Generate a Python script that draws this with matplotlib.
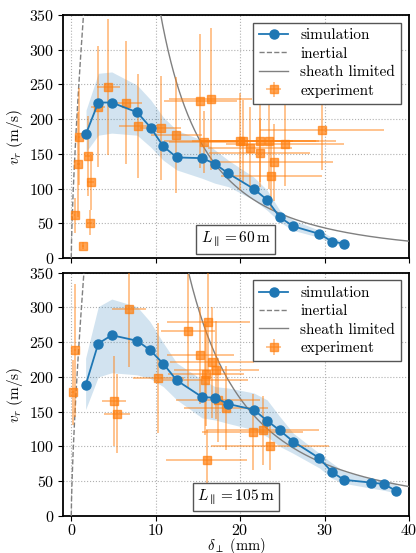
import numpy as np
import matplotlib
matplotlib.use("Agg")
import matplotlib.pyplot as plt

plt.rcParams['mathtext.fontset'] = 'cm'
plt.rcParams['font.family'] = ['cmr10', 'DejaVu Serif']
plt.rcParams['axes.formatter.use_mathtext'] = True
plt.rcParams['axes.unicode_minus'] = False

# ---------------- data: top panel (L = 60 m) ----------------
sim60_x = [1.75, 3.2, 4.8, 7.8, 9.4, 10.9, 12.5, 15.5, 17.0, 18.6, 21.6, 23.2, 24.7, 26.3, 29.4, 30.9, 32.3]
sim60_y = [179, 224, 224, 210, 188, 161, 145, 144, 136, 122, 100, 84, 59, 46, 35, 24, 21]
sim60_lo = [153, 177, 180, 177, 160, 141, 127, 115, 108, 103, 84, 69, 52, 40, 30, 21, 18]
sim60_hi = [213, 266, 268, 249, 228, 203, 184, 170, 156, 141, 117, 98, 69, 55, 40, 30, 24]

exp60_x = [0.40, 0.83, 0.91, 1.42, 1.93, 2.29, 2.2, 3.19, 4.41, 6.54, 7.9, 10.6, 12.44,
           15.3, 16.5, 15.7, 20.0, 20.3, 21.2, 22.4, 22.3, 23.4, 24.0, 23.7, 25.3, 29.7]
exp60_y = [62, 135, 175, 18, 147, 109, 51, 218, 246, 224, 190, 187, 177,
           226, 229, 167, 168, 168, 159, 169, 152, 169, 138, 119, 164, 185]
exp60_xerr = [0.1, 0.15, 0.15, 0.1, 0.3, 0.4, 0.3, 0.8, 1.4, 1.8, 2.2, 2.4, 3.0,
              4.3, 4.9, 4.1, 9.0, 6.0, 5.0, 7.0, 6.0, 8.0, 7.0, 6.0, 7.0, 7.3]
exp60_yerr = [25, 75, 70, 5, 58, 40, 18, 87, 98, 89, 75, 75, 83,
              96, 102, 45, 70, 60, 58, 60, 50, 70, 55, 50, 60, 58]

# ---------------- data: bottom panel (L = 105 m) ----------------
sim105_x = [1.7, 3.2, 4.8, 7.8, 9.3, 10.9, 12.5, 15.5, 17.05, 18.6, 21.6, 23.2, 24.7, 26.3, 29.4, 30.9, 32.3, 35.5, 37.0, 38.5]
sim105_y = [188, 248, 260, 252, 239, 219, 195, 171, 170, 161, 153, 137, 123, 107, 83, 63, 52, 48, 46, 36]
sim105_lo = [153, 200, 206, 203, 198, 186, 167, 141, 138, 133, 124, 114, 100, 90, 69, 54, 47, 40, 37, 33]
sim105_hi = [227, 301, 312, 301, 280, 249, 220, 196, 186, 184, 177, 167, 143, 119, 90, 76, 64, 54, 52, 47]

exp105_x = [0.2, 0.47, 5.08, 5.4, 6.85, 10.3, 13.8, 15.3, 16.25, 16.65, 17.2, 16.0, 15.9,
            17.35, 18.35, 16.05, 21.5, 22.7, 23.5]
exp105_y = [178, 238, 165, 147, 298, 198, 266, 231, 279, 221, 210, 204, 196,
            167, 155, 80, 121, 123, 101]
exp105_xerr = [0.1, 0.1, 1.45, 1.5, 2.0, 3.0, 3.2, 4.0, 4.9, 5.0, 5.0, 4.5, 5.0,
               5.0, 5.0, 4.8, 6.0, 6.7, 7.0]
exp105_yerr = [47, 95, 65, 57, 84, 79, 82, 70, 73, 80, 70, 75, 80,
               60, 60, 43, 55, 50, 35]

# model curves: inertial ~ delta^0.7, sheath limited ~ delta^-2
inert60_coef, inert105_coef = 350 / 1.45 ** 0.7, 350 / 1.5 ** 0.7
inert_pow = 0.7
sheath60_coef, sheath105_coef = 350 * 10.6 ** 2, 350 * 13.9 ** 2

blue = '#1f77b4'
orange = '#ff7f0e'
grey = '#808080'

fig = plt.figure(figsize=(4.16, 5.53), dpi=100)
ax1 = fig.add_axes([0.151, 0.533, 0.832, 0.440])
ax2 = fig.add_axes([0.151, 0.067, 0.832, 0.440])

panels = [
    (ax1, sim60_x, sim60_y, sim60_lo, sim60_hi, exp60_x, exp60_y, exp60_xerr, exp60_yerr,
     inert60_coef, sheath60_coef, r'$L_\parallel = 60\,\mathrm{m}$'),
    (ax2, sim105_x, sim105_y, sim105_lo, sim105_hi, exp105_x, exp105_y, exp105_xerr, exp105_yerr,
     inert105_coef, sheath105_coef, r'$L_\parallel = 105\,\mathrm{m}$'),
]

for (ax, sx, sy, slo, shi, ex, ey, exe, eye, ic, sc, lab) in panels:
    ax.fill_between(sx, slo, shi, color=blue, alpha=0.2, lw=0, zorder=2)
    d_in = np.linspace(0, 2.0, 200)
    ax.plot(d_in, ic * d_in ** inert_pow, ls='--', color=grey, lw=1.0, label='inertial', zorder=3)
    d_sh = np.linspace(9, 41, 400)
    ax.plot(d_sh, sc / d_sh ** 2, ls='-', color=grey, lw=1.0, label='sheath limited', zorder=3)
    cont = ax.errorbar(ex, ey, xerr=exe, yerr=eye, fmt='s', color=orange, ms=5.5, mec=orange,
                       ecolor=orange, elinewidth=1.3, alpha=0.5, label='experiment', zorder=4)
    cont[0].set_alpha(0.7)
    ax.plot(sx, sy, '-o', color=blue, ms=6.5, lw=1.3, label='simulation', zorder=5)

    ax.set_xlim(-1, 40)
    ax.set_ylim(0, 350)
    ax.set_xticks([0, 10, 20, 30, 40])
    ax.set_yticks(np.arange(0, 351, 50))
    ax.grid(True, ls=':', color='#b0b0b0', lw=0.8)
    ax.set_axisbelow(True)
    ax.tick_params(labelsize=11.5, direction='out', length=3.5, pad=2.5)
    for sp in ax.spines.values():
        sp.set_linewidth(1.3)
    ax.set_ylabel(r'$v_r\ (\mathrm{m/s})$', fontsize=11, labelpad=3)
    h, l = ax.get_legend_handles_labels()
    order = [l.index('simulation'), l.index('inertial'), l.index('sheath limited'), l.index('experiment')]
    leg = ax.legend([h[i] for i in order], [l[i] for i in order], loc='upper right',
                    prop={'size': 11}, fancybox=False, labelspacing=0.3, handlelength=1.9,
                    edgecolor='#555555', framealpha=1, borderaxespad=0.5)
    leg.get_frame().set_linewidth(1.0)
    ax.text(0.5, 0.078, lab, transform=ax.transAxes, ha='center', va='center', fontsize=11,
            bbox=dict(boxstyle='square,pad=0.3', fc='white', ec='#555555', lw=1.0), zorder=6)

ax1.tick_params(labelbottom=False)
ax2.tick_params(axis='x', pad=1.5)
ax2.set_xlabel(r'$\delta_\perp\ (\mathrm{mm})$', fontsize=10.5, labelpad=-1.5)

fig.savefig('out.png', dpi=100)
